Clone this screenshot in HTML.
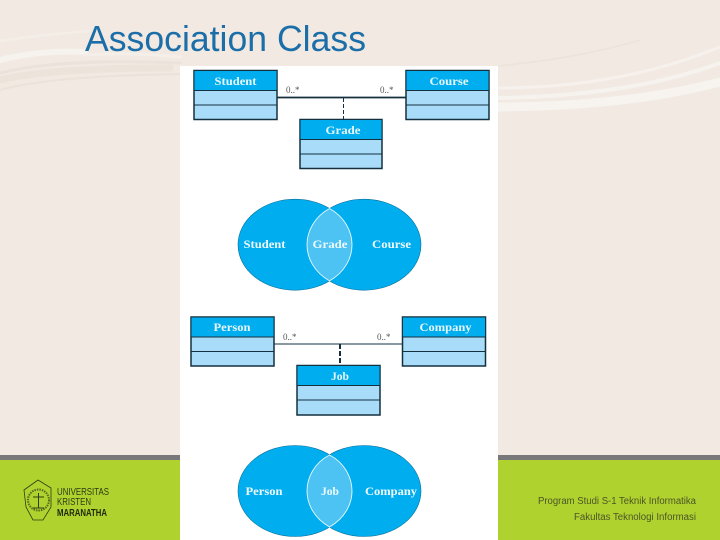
<!DOCTYPE html>
<html><head><meta charset="utf-8"><style>
html,body{margin:0;padding:0;background:#f1e9e2}
svg{display:block}
text{font-family:"Liberation Sans",sans-serif}
.h{font-family:"Liberation Serif",serif;font-weight:bold;font-size:12px;fill:#e8f7fd;text-anchor:middle}
.v{font-family:"Liberation Serif",serif;font-weight:bold;font-size:12px;fill:#f0fafe;text-anchor:middle}
.m{font-family:"Liberation Serif",serif;font-size:9px;fill:#555}
.f{font-size:10px;fill:#4a5528}
</style></head><body>
<svg width="720" height="540" viewBox="0 0 720 540" xmlns="http://www.w3.org/2000/svg">
<rect width="720" height="540" fill="#f1e9e2"/>
<!-- swooshes -->
<g fill="none" stroke-linecap="round">
<path d="M0 41 Q40 35 90 31" stroke="#f4eee8" stroke-width="2.500"/>
<path d="M0 60 Q40 50 85 52" stroke="#f6f2ed" stroke-width="6"/>
<path d="M85 55 Q130 52 180 57" stroke="#f4efe9" stroke-width="3"/>
<path d="M0 73 Q60 58 180 63" stroke="#ebe3db" stroke-width="3"/>
<path d="M0 80 Q50 68 170 68" stroke="#e9e1d8" stroke-width="7" opacity=".7"/>
<path d="M0 90 Q50 76 180 74" stroke="#ebe3da" stroke-width="2"/>
<path d="M498 88 Q620 88 720 47" stroke="#f6f1ec" stroke-width="3"/>
<path d="M498 98 Q630 96 720 63" stroke="#f6f2ee" stroke-width="4"/>
<path d="M498 107 Q630 106 720 82" stroke="#f7f3ef" stroke-width="9"/>
<path d="M498 66 Q580 58 640 40" stroke="#ece4db" stroke-width="1.500"/>
</g>
<!-- footer -->
<rect x="0" y="460" width="720" height="80" fill="#b0d22f"/>
<rect x="0" y="455" width="720" height="5" fill="#78787a"/>
<!-- title -->
<text x="85" y="51" font-size="36" fill="#1b6ea8" textLength="281" lengthAdjust="spacingAndGlyphs">Association Class</text>
<!-- panel -->
<rect x="180" y="66" width="318" height="474" fill="#fff"/>
<!-- class diagram 1 -->
<g stroke="#14303f" stroke-width="1.500">
<g fill="#a8dcf8">
<rect x="194" y="70.500" width="83" height="49"/><rect x="406" y="70.500" width="83" height="49"/><rect x="300" y="119.500" width="82" height="49"/>
</g>
<g fill="#00aeef" stroke-width="1">
<rect x="194" y="70.500" width="83" height="20"/><rect x="406" y="70.500" width="83" height="20"/><rect x="300" y="119.500" width="82" height="20"/>
</g>
<path d="M194 105H277M406 105H489M300 154H382" fill="none" stroke-width="1"/>
<path d="M277 97.500H406" fill="none" stroke-width="1.800"/>
<path d="M343.500 98V119" fill="none" stroke-width="1" stroke-dasharray="4 2"/>
</g>
<text class="h" x="235.500" y="85" textLength="42" lengthAdjust="spacingAndGlyphs">Student</text>
<text class="h" x="449" y="85" textLength="39" lengthAdjust="spacingAndGlyphs">Course</text>
<text class="h" x="343" y="134" textLength="35" lengthAdjust="spacingAndGlyphs">Grade</text>
<text class="m" x="286" y="93">0..*</text>
<text class="m" x="380" y="93">0..*</text>
<!-- venn 1 -->
<g>
<ellipse cx="295" cy="244.700" rx="57" ry="45.500" fill="#00aeef" stroke="#0b6f9a" stroke-width=".6"/>
<ellipse cx="364" cy="244.700" rx="57" ry="45.500" fill="#00aeef" stroke="#0b6f9a" stroke-width=".6"/>
<path d="M329.500 208.500C345 217 352 232 352 244.700C352 258 345 272 329.500 280.900C314 272 307 258 307 244.700C307 232 314 217 329.500 208.500Z" fill="#4cc3f2" stroke="#e8f8fe" stroke-width=".9"/>
</g>
<text class="v" x="264.500" y="248" textLength="42" lengthAdjust="spacingAndGlyphs">Student</text>
<text class="v" x="330" y="248" textLength="35" lengthAdjust="spacingAndGlyphs">Grade</text>
<text class="v" x="391.500" y="248" textLength="39" lengthAdjust="spacingAndGlyphs">Course</text>
<!-- class diagram 2 -->
<g stroke="#14303f" stroke-width="1.500">
<g fill="#a8dcf8">
<rect x="191" y="317" width="83" height="49"/><rect x="402.500" y="317" width="83" height="49"/><rect x="297" y="365.500" width="83" height="49.500"/>
</g>
<g fill="#00aeef" stroke-width="1">
<rect x="191" y="317" width="83" height="20"/><rect x="402.500" y="317" width="83" height="20"/><rect x="297" y="365.500" width="83" height="20"/>
</g>
<path d="M191 351.500H274M402.500 351.500H485.500M297 400H380" fill="none" stroke-width="1"/>
<path d="M274 344H402" fill="none" stroke-width="1"/>
<path d="M340 344V364" fill="none" stroke-width="2" stroke-dasharray="5 2"/>
</g>
<text class="h" x="232" y="331" textLength="37" lengthAdjust="spacingAndGlyphs">Person</text>
<text class="h" x="445.500" y="331" textLength="52" lengthAdjust="spacingAndGlyphs">Company</text>
<text class="h" x="340" y="380" textLength="18" lengthAdjust="spacingAndGlyphs">Job</text>
<text class="m" x="283" y="340">0..*</text>
<text class="m" x="377" y="340">0..*</text>
<!-- venn 2 -->
<g>
<ellipse cx="295" cy="491" rx="57" ry="45.500" fill="#00aeef" stroke="#0b6f9a" stroke-width=".6"/>
<ellipse cx="364" cy="491" rx="57" ry="45.500" fill="#00aeef" stroke="#0b6f9a" stroke-width=".6"/>
<path d="M329.500 455C345 463 352 478 352 491C352 504 345 518 329.500 527C314 518 307 504 307 491C307 478 314 463 329.500 455Z" fill="#4cc3f2" stroke="#e8f8fe" stroke-width=".9"/>
</g>
<text class="v" x="264" y="495" textLength="37" lengthAdjust="spacingAndGlyphs">Person</text>
<text class="v" x="330" y="495" textLength="18" lengthAdjust="spacingAndGlyphs">Job</text>
<text class="v" x="391" y="495" textLength="52" lengthAdjust="spacingAndGlyphs">Company</text>
<!-- logo -->
<g fill="none" stroke="#2f3d12">
<path d="M38 480L51 488V507L43 520H33L26 507L24 490Z" stroke-width=".8"/>
<circle cx="38.500" cy="500" r="10.500" stroke-width="2" stroke-dasharray="1.500 1" opacity=".7"/>
<path d="M38.500 493V508M33 497H44M33 508H44" stroke-width="1"/>
</g>
<text x="57" y="495" font-size="10" fill="#2f3a16" textLength="52" lengthAdjust="spacingAndGlyphs">UNIVERSITAS</text>
<text x="57" y="505" font-size="10" fill="#2f3a16" textLength="34" lengthAdjust="spacingAndGlyphs">KRISTEN</text>
<text x="57" y="516" font-size="10.500" font-weight="bold" fill="#20290c" textLength="50" lengthAdjust="spacingAndGlyphs">MARANATHA</text>
<!-- footer right -->
<text class="f" x="538" y="504" textLength="158" lengthAdjust="spacingAndGlyphs">Program Studi S-1 Teknik Informatika</text>
<text class="f" x="574" y="520" textLength="122" lengthAdjust="spacingAndGlyphs">Fakultas Teknologi Informasi</text>
</svg>
</body></html>
